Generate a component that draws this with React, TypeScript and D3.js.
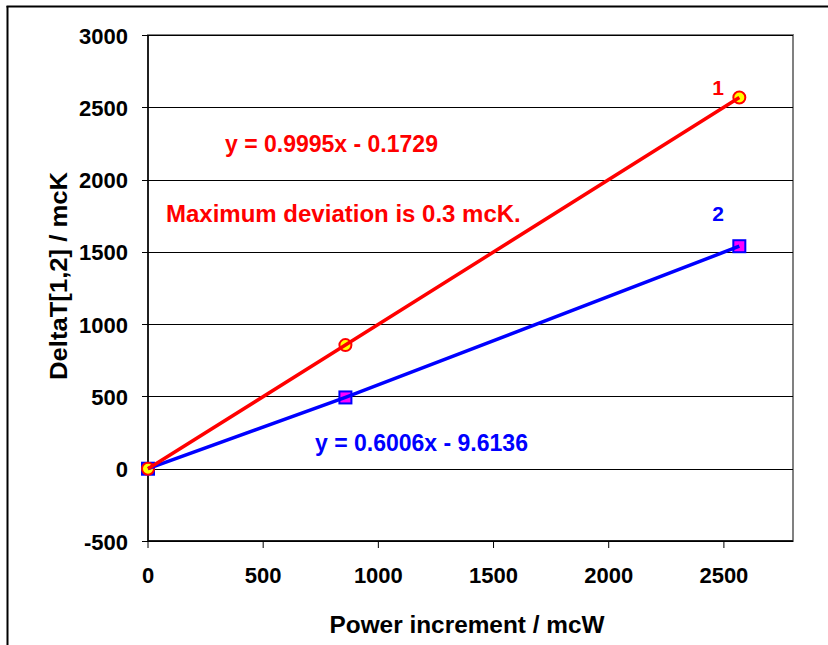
import React from 'react';
import * as d3 from 'd3';

const powerX = [0, 857, 2567];
const deltaT1 = [0, 855, 2568];
const deltaT2 = [0, 493, 1539];
const xTicks = [0, 500, 1000, 1500, 2000, 2500];
const yTicks = [-500, 0, 500, 1000, 1500, 2000, 2500, 3000];

const W = 828;
const H = 645;
const plot = { left: 148, top: 35, right: 793, bottom: 541 };
const font = '"Liberation Sans", Arial, sans-serif';

export default function App() {
  const x = d3.scaleLinear().domain([0, 2800]).range([plot.left, plot.right]);
  const y = d3.scaleLinear().domain([-500, 3000]).range([plot.bottom, plot.top]);

  const pts1 = powerX.map((v, i) => [x(v), y(deltaT1[i])] as [number, number]);
  const pts2 = powerX.map((v, i) => [x(v), y(deltaT2[i])] as [number, number]);
  const line = d3.line();

  return (
    <svg width={W} height={H} style={{ position: 'absolute', left: 0, top: 0, background: '#fff' }}>
      {/* outer frame */}
      <line x1={7.5} y1={6} x2={7.5} y2={H} stroke="#000" strokeWidth={2} />
      <line x1={6.5} y1={6.5} x2={W} y2={6.5} stroke="#000" strokeWidth={2} />

      {/* plot border */}
      <rect x={plot.left} y={plot.top} width={plot.right - plot.left} height={plot.bottom - plot.top}
        fill="none" stroke="#808080" strokeWidth={2} />

      {/* gridlines */}
      {yTicks.map(t => (
        <line key={'g' + t} x1={plot.left} x2={plot.right} y1={Math.round(y(t)) + 0.5} y2={Math.round(y(t)) + 0.5}
          stroke="#000" strokeWidth={1} />
      ))}

      {/* y axis */}
      <line x1={plot.left} x2={plot.left} y1={plot.top} y2={plot.bottom} stroke="#000" strokeWidth={1.5} />
      {yTicks.map(t => (
        <g key={'y' + t}>
          <line x1={plot.left - 6} x2={plot.left} y1={Math.round(y(t)) + 0.5} y2={Math.round(y(t)) + 0.5} stroke="#000" />
          <text x={plot.left - 20} y={y(t) + 8.5} textAnchor="end" fontFamily={font} fontWeight="bold" fontSize={22}>{t}</text>
        </g>
      ))}

      {/* x axis */}
      <line x1={plot.left} x2={plot.right} y1={plot.bottom} y2={plot.bottom} stroke="#000" strokeWidth={1.5} />
      {xTicks.map(t => (
        <g key={'x' + t}>
          <line x1={x(t)} x2={x(t)} y1={plot.bottom} y2={plot.bottom + 7} stroke="#000" />
          <text x={x(t)} y={plot.bottom + 42} textAnchor="middle" fontFamily={font} fontWeight="bold" fontSize={22}>{t}</text>
        </g>
      ))}

      {/* axis titles */}
      <text x={467} y={633} textAnchor="middle" fontFamily={font} fontWeight="bold" fontSize={24.5}
        textLength={275} lengthAdjust="spacingAndGlyphs">Power increment / mcW</text>
      <text transform="translate(67,276) rotate(-90)" textAnchor="middle" fontFamily={font} fontWeight="bold" fontSize={23}
        textLength={208} lengthAdjust="spacingAndGlyphs">DeltaT[1,2] / mcK</text>

      {/* markers */}
      {pts2.map((p, i) => (
        <rect key={'s' + i} x={p[0] - 6} y={p[1] - 6} width={12} height={12} fill="#FF00FF" stroke="#0000FF" strokeWidth={2} />
      ))}
      {pts1.map((p, i) => (
        <circle key={'c' + i} cx={p[0]} cy={p[1]} r={6} fill="#FFFF00" stroke="#FF0000" strokeWidth={2} />
      ))}

      {/* lines */}
      <path d={line(pts2) || ''} fill="none" stroke="#0000FF" strokeWidth={3.5} />
      <path d={line(pts1) || ''} fill="none" stroke="#FF0000" strokeWidth={3.5} />

      {/* labels */}
      <text x={718} y={95} textAnchor="middle" fill="#FF0000" fontFamily={font} fontWeight="bold" fontSize={21}>1</text>
      <text x={718} y={221} textAnchor="middle" fill="#0000FF" fontFamily={font} fontWeight="bold" fontSize={21}>2</text>
      <text x={225} y={152} fill="#FF0000" fontFamily={font} fontWeight="bold" fontSize={23}>y = 0.9995x - 0.1729</text>
      <text x={166} y={222} fill="#FF0000" fontFamily={font} fontWeight="bold" fontSize={24}>Maximum deviation is 0.3 mcK.</text>
      <text x={315} y={451} fill="#0000FF" fontFamily={font} fontWeight="bold" fontSize={23}>y = 0.6006x - 9.6136</text>
    </svg>
  );
}
